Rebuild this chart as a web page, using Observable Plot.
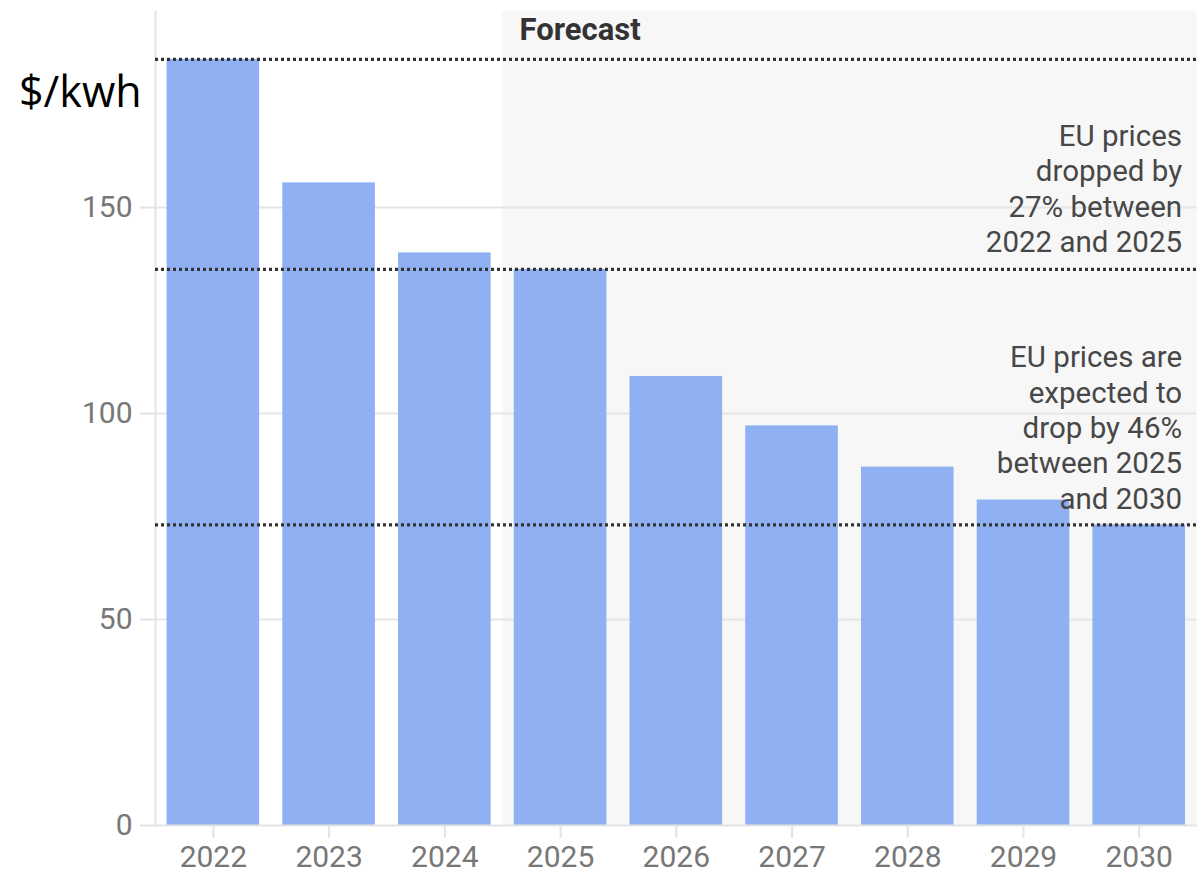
<!DOCTYPE html>
<html>
<head>
<meta charset="utf-8">
<script src="https://cdn.jsdelivr.net/npm/d3@7"></script>
<script src="https://cdn.jsdelivr.net/npm/@observablehq/plot@0.6"></script>
<style>
  body { margin: 0; background: #fff; }
  #wrap { position: relative; width: 1204px; height: 880px; overflow: hidden; }
  #unit { position: absolute; left: 19px; top: 65px; font-family: "Open Sans", sans-serif; font-size: 43px; color: #000; line-height: 1.2; }
  svg { display: block; }
</style>
</head>
<body>
<div id="wrap"><div id="chart"></div><div id="unit"></div></div>
<script>
// ---- data ----
const years = ["2022", "2023", "2024", "2025", "2026", "2027", "2028", "2029", "2030"];
const prices = [186, 156, 139, 135, 109, 97, 87, 79, 73];
const forecastYears = ["2025", "2026", "2027", "2028", "2029", "2030"];
const referenceLevels = [186, 135, 73];
const yTicks = [0, 50, 100, 150];
const yMax = 197.6;
const noteTexts = [
  "EU prices\ndropped by\n27% between\n2022 and 2025",
  "EU prices are\nexpected to\ndrop by 46%\nbetween 2025\nand 2030"
];
const noteValues = [154.8, 96.8];
const forecastLabel = "Forecast";
const unitLabel = "$/kwh";

// ---- chart ----
const bars = years.map((year, i) => ({year, price: prices[i]}));
const notes = noteTexts.map((text, i) => ({text, value: noteValues[i]}));

const chart = Plot.plot({
  width: 1204,
  height: 880,
  marginTop: 11,
  marginBottom: 55,
  marginLeft: 155,
  marginRight: 7.4,
  style: {fontFamily: "Roboto, sans-serif", background: "transparent"},
  x: {domain: years, paddingInner: 0.2, paddingOuter: 0.1, round: false, label: null},
  y: {domain: [0, yMax], label: null},
  marks: [
    Plot.barY(forecastYears, {x: d => d, y1: 0, y2: yMax, fill: "#f7f7f7", insetLeft: -11.6, insetRight: -11.6}),
    Plot.ruleY(yTicks.filter(t => t > 0), {stroke: "#e6e6e6", strokeWidth: 2}),
    Plot.frame({anchor: "left", stroke: "#e3e3e3", strokeWidth: 2}),
    Plot.barY(bars, {x: "year", y: "price", fill: "#8fb0f2"}),
    Plot.ruleY([0], {stroke: "#e3e3e3", strokeWidth: 2}),
    Plot.axisY({ticks: yTicks, tickSize: 15, tickPadding: 8, fontSize: 30, fill: "#777", stroke: "#e3e3e3", strokeWidth: 2, label: null}),
    Plot.axisX({tickSize: 13, tickPadding: 7, fontSize: 30, fill: "#777", stroke: "#e3e3e3", strokeWidth: 2, label: null}),
    Plot.ruleY(referenceLevels, {stroke: "#333", strokeWidth: 3.2, strokeDasharray: "3,3"}),
    Plot.text(notes, {text: "text", y: "value", frameAnchor: "right", dx: -15, textAnchor: "end", lineAnchor: "middle", lineHeight: 1.2, fontSize: 29.5, fill: "#474747"}),
    Plot.text([forecastLabel], {text: d => d, x: () => forecastYears[0], frameAnchor: "top", dy: 6, dx: -41, lineAnchor: "top", textAnchor: "start", fontSize: 31, fontWeight: "bold", fill: "#333"})
  ]
});
document.getElementById("chart").appendChild(chart);
document.getElementById("unit").textContent = unitLabel;
</script>
</body>
</html>
